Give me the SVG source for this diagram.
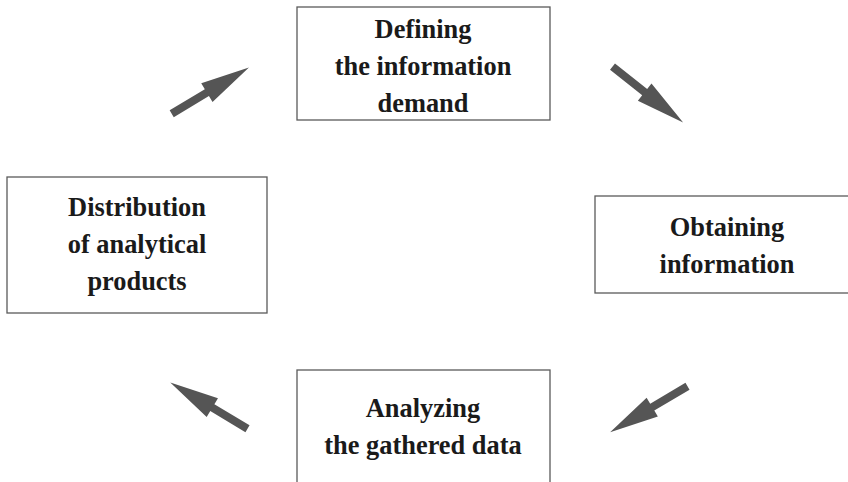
<svg xmlns="http://www.w3.org/2000/svg" xmlns:xlink="http://www.w3.org/1999/xlink" width="848" height="482" viewBox="0 0 848 482">
<defs>
<style>
.box{fill:#fff;stroke:#5a5a5a;stroke-width:1.3}
.lbl{font-family:"Liberation Serif","Times New Roman",serif;font-weight:bold;font-size:26.4px;fill:#1a1a1a;text-anchor:middle}
.arr{fill:#555555}
</style>
<path id="arrow" d="M0,-4 H41 V-11 L90,0 L41,11 V4 H0 Z"/>
</defs>
<rect width="848" height="482" fill="#fff"/>
<g id="connectors" class="arr">
<use xlink:href="#arrow" href="#arrow" transform="translate(171.7,113.7) rotate(-30.9)"/>
<use xlink:href="#arrow" href="#arrow" transform="translate(612.5,66.7) rotate(38.3)"/>
<use xlink:href="#arrow" href="#arrow" transform="translate(687.5,386.2) rotate(149.3)"/>
<use xlink:href="#arrow" href="#arrow" transform="translate(247.5,428.7) rotate(210.9)"/>
</g>
<g id="node-defining">
<rect class="box" x="297" y="7" width="253" height="113"/>
<text class="lbl" x="423" y="38">Defining</text>
<text class="lbl" x="423" y="75">the information</text>
<text class="lbl" x="423" y="112">demand</text>
</g>
<g id="node-obtaining">
<rect class="box" x="595" y="196" width="265" height="97"/>
<text class="lbl" x="727" y="236">Obtaining</text>
<text class="lbl" x="727" y="273">information</text>
</g>
<g id="node-analyzing">
<rect class="box" x="297" y="370" width="253" height="130"/>
<text class="lbl" x="423" y="417">Analyzing</text>
<text class="lbl" x="423" y="454">the gathered data</text>
</g>
<g id="node-distribution">
<rect class="box" x="7" y="177" width="260" height="136"/>
<text class="lbl" x="137" y="216">Distribution</text>
<text class="lbl" x="137" y="253">of analytical</text>
<text class="lbl" x="137" y="290">products</text>
</g>
</svg>
